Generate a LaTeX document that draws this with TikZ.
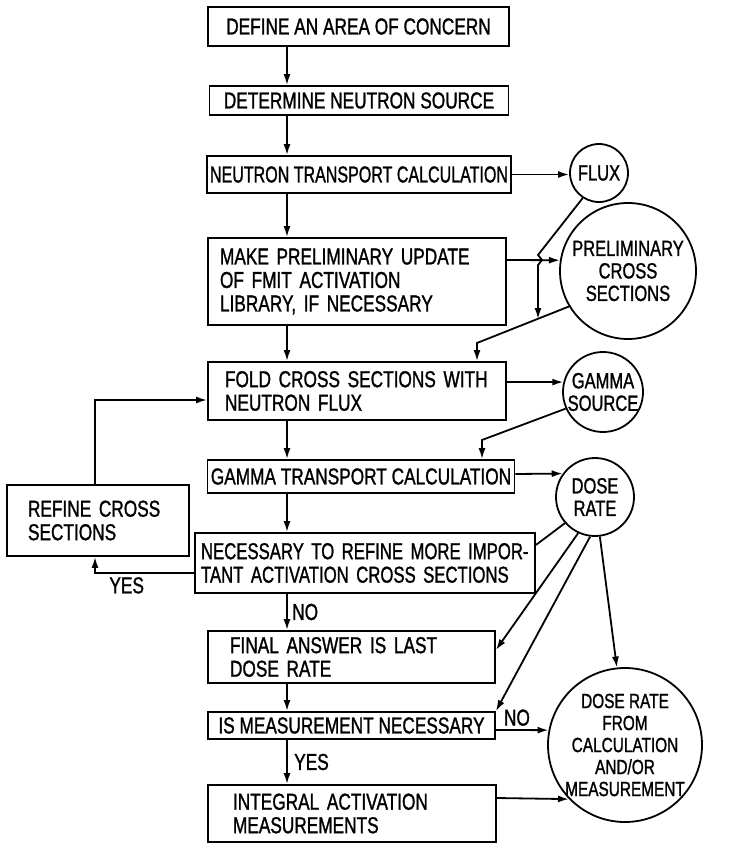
\documentclass[tikz,border=0pt]{standalone}
\usepackage{fontspec}
\setmainfont{Liberation Sans}[FakeStretch=0.75, FakeBold=1.2]
\usepackage{tikz}
\usetikzlibrary{calc}
\usetikzlibrary{arrows.meta}
\newcommand{\boxfont}{\fontsize{23}{23.5}\selectfont}
\newcommand{\circfont}{\fontsize{22}{22.5}\selectfont}

\begin{document}
\begin{tikzpicture}[
      x=1pt, y=-1pt, >={Latex[length=11pt,width=7pt]},
      line width=1.8pt,
      stepbox/.style={draw, rectangle, inner ysep=0pt},
      textbox/.style={draw, rectangle, align=left, inner ysep=2pt},
      circ/.style={draw, circle, inner sep=0pt, align=center, font=\circfont},
      every node/.style={font=\boxfont}]

      \useasboundingbox (0,0) rectangle (731,843);

      % main column
      \node[stepbox, minimum width=301pt, minimum height=39pt] (area) at (358.5,26.5) {DEFINE AN AREA OF CONCERN};
      \node[stepbox, minimum width=299pt, minimum height=29pt] (source) at (359,100.5) {DETERMINE NEUTRON SOURCE};
      \node[stepbox, minimum width=302pt, minimum height=37pt] (ntrans) at (359,174.5) {\scalebox{0.93}[1]{NEUTRON TRANSPORT CALCULATION}};
      \node[textbox, text width=274pt, inner xsep=12pt, minimum height=87pt] (update) at (357,281.5)
        {MAKE PRELIMINARY UPDATE\\ OF FMIT ACTIVATION\\ LIBRARY, IF NECESSARY};
      \node[textbox, text width=264pt, inner xsep=17pt, minimum height=58pt] (fold) at (357,391)
        {FOLD CROSS SECTIONS WITH\\ NEUTRON FLUX};
      \node[stepbox, minimum width=304pt, minimum height=33pt] (gtrans) at (361,476.5) {GAMMA TRANSPORT CALCULATION};
      \node[textbox, text width=328pt, inner xsep=6pt, minimum height=60pt] (refine) at (365,563)
        {\scalebox{0.97}[1]{NECESSARY TO REFINE MORE IMPOR-}\\ \scalebox{0.97}[1]{TANT ACTIVATION CROSS SECTIONS}};
      \node[textbox, text width=140pt, inner xsep=21pt, minimum height=71pt] (rcross) at (98,520.5)
        {REFINE CROSS\\ SECTIONS};
      \node[textbox, text width=243pt, inner xsep=22pt, minimum height=52pt] (final) at (351.5,657)
        {FINAL ANSWER IS LAST\\ DOSE RATE};
      \node[stepbox, minimum width=287pt, minimum height=27pt] (measq) at (351.5,725.5) {IS MEASUREMENT NECESSARY};
      \node[textbox, text width=238pt, inner xsep=25pt, minimum height=57pt] (integ) at (352,813.5)
        {INTEGRAL ACTIVATION\\ MEASUREMENTS};

      % results
      \node[circ, minimum size=58pt] (flux) at (599,173) {FLUX};
      \node[circ, minimum size=136pt] (prelim) at (628,271) {PRELIMINARY\\ CROSS\\ SECTIONS};
      \node[circ, minimum size=80pt] (gsrc) at (603,392) {GAMMA\\ SOURCE};
      \node[circ, minimum size=78pt] (dose) at (595,497) {DOSE\\ RATE};
      \node[circ, minimum size=154pt, inner sep=-6pt, font=\fontsize{20.5}{22}\selectfont] (result) at (625,745)
        {DOSE RATE\\ FROM\\ CALCULATION\\ AND/OR\\ MEASUREMENT};

      \coordinate (spine) at (287,0);
      \coordinate (fjoin) at (538,319);
      \coordinate (pbend) at (477,343);
      \coordinate (gbend) at (482,440);

      % edges down the column
      \draw[->] (area.south -| spine) -- (source.north -| spine);
      \draw[->] (source.south -| spine) -- (ntrans.north -| spine);
      \draw[->] (ntrans.south -| spine) -- (update.north -| spine);
      \draw[->] (update.south -| spine) -- (fold.north -| spine);
      \draw[->] (fold.south -| spine) -- (gtrans.north -| spine);
      \draw[->] (gtrans.south -| spine) -- (refine.north -| spine);
      \draw[->] (refine.south -| spine) -- node[right=1pt] (lblno) {NO} (final.north -| spine);
      \draw[->] (final.south -| spine) -- (measq.north -| spine);
      \draw[->] (measq.south -| spine) -- node[right=3pt] (lblyes) {YES} (integ.north -| spine);

      % edges to and from the circles
      \draw[->] (ntrans.east) -- (ntrans.east -| flux.west);
      \draw[->] ([yshift=21.5pt]update.east) -- (prelim.171);
      \draw[->] (flux.237) -- (538,255) -- (542,260) -- (538,265) -- (fjoin);
      \draw[->] (prelim.211) -- (pbend) -- (fold.north -| pbend);
      \draw[->] ([yshift=9pt]fold.east) -- (gsrc.166);
      \draw[->] (gsrc.204) -- (gbend) -- (gtrans.north -| gbend);
      \draw[->] ([yshift=2.5pt]gtrans.east) -- (dose.144);
      \draw (dose.221) -- ([yshift=18pt]refine.east);
      \draw[->] (dose.245) -- ([yshift=7pt]final.east);
      \draw[->] (dose.263) -- (measq.north east);
      \draw[->] (dose.277) -- (result.96);
      \draw[->] ([yshift=-4.5pt]measq.east) -- node[above, pos=0.4] (lblno2) {NO} (result.169);
      \draw[->] ([yshift=15.5pt]integ.east) -- (result.224);

      % refinement loop
      \draw[->] ([yshift=-10pt]refine.west) -| node[below, pos=0.34] (lblyes2) {YES} ([xshift=-3pt]rcross.south);
      \draw[->] ([xshift=-3pt]rcross.north) |- ([yshift=-9pt]fold.west);
    \end{tikzpicture}
\end{document}
